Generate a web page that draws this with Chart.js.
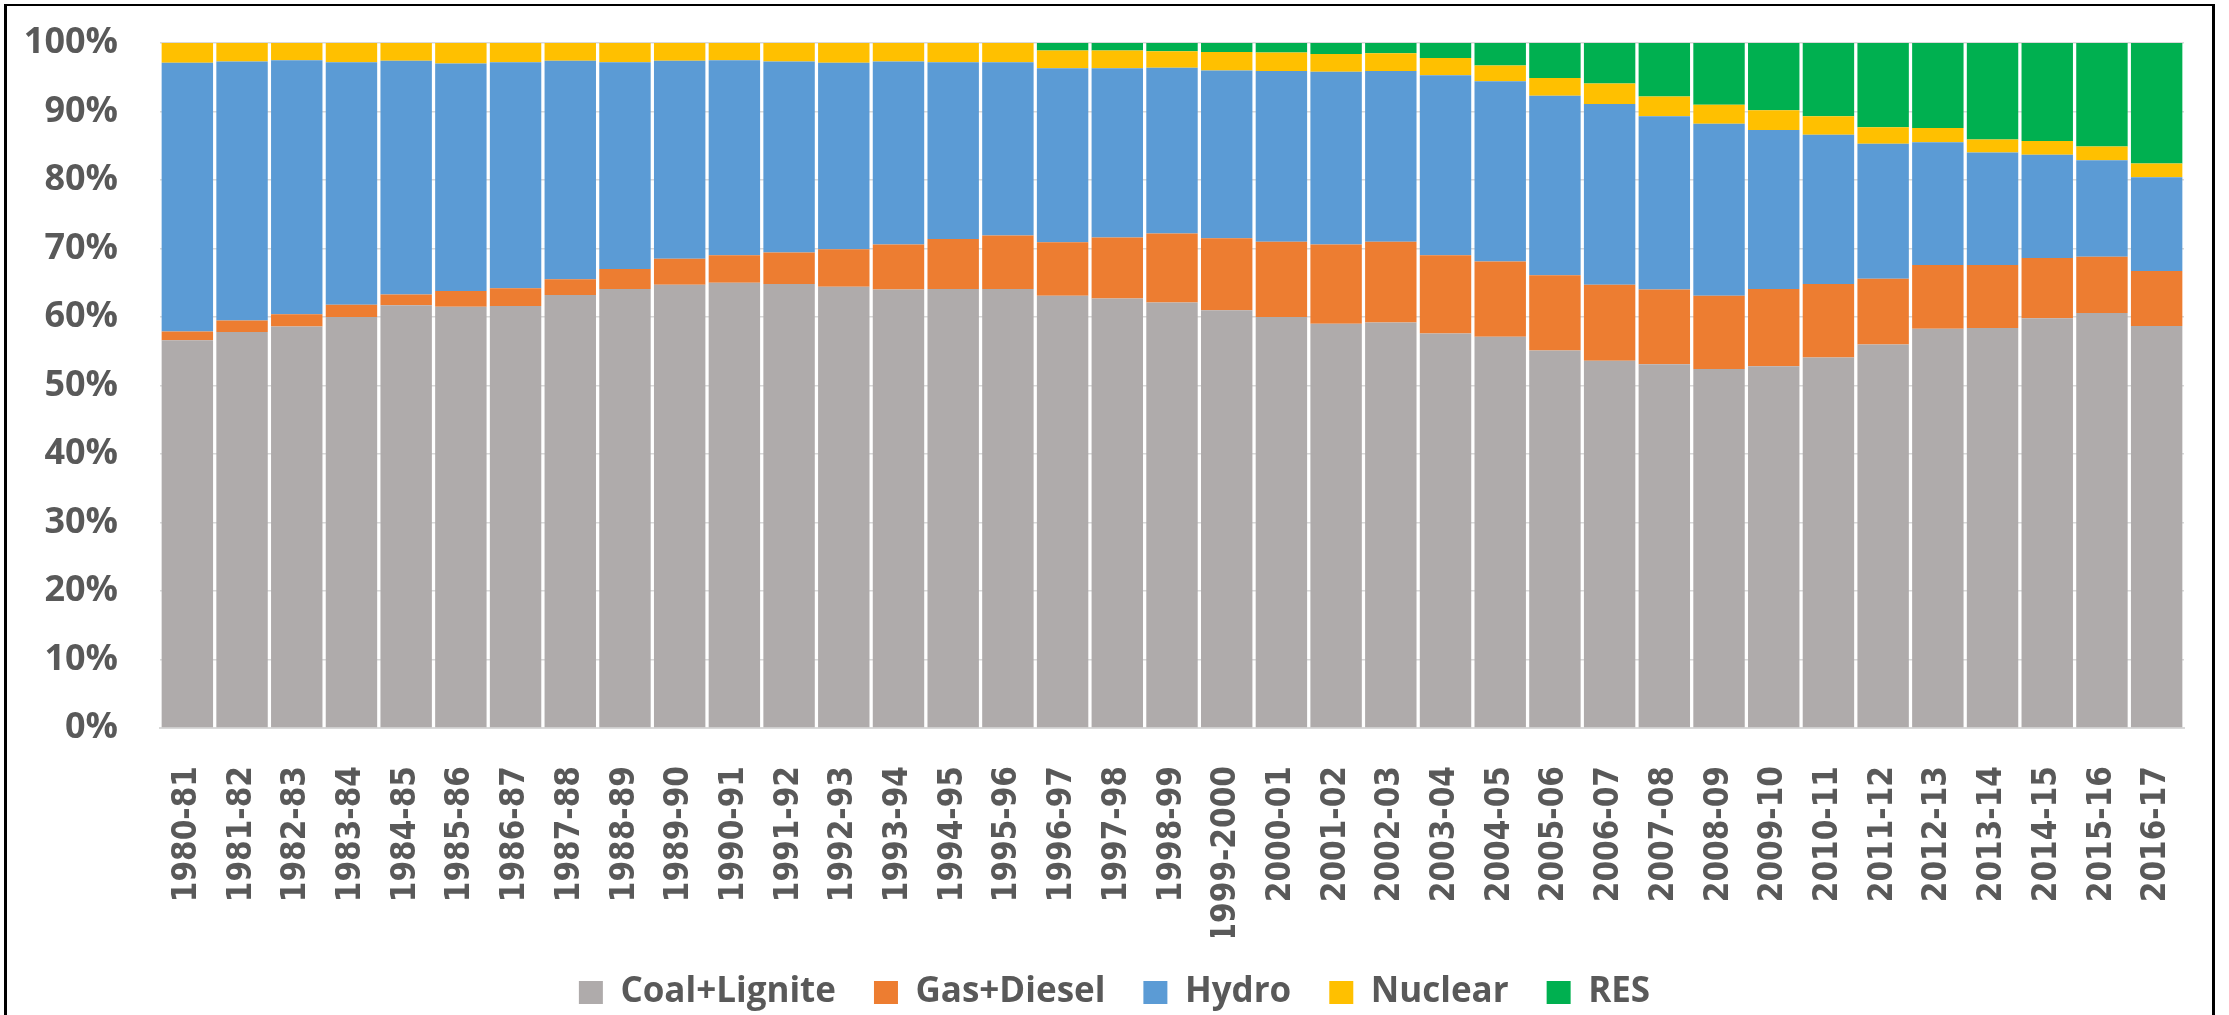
<!DOCTYPE html>
<html>
<head>
<meta charset="utf-8">
<title>Generation mix 1980-81 to 2016-17</title>
<script src="https://cdn.jsdelivr.net/npm/chart.js@4.4.0/dist/chart.umd.min.js"></script>
<style>
    html, body { margin: 0; padding: 0; background: #ffffff; }
    #wrap { position: relative; width: 2229px; height: 1015px; overflow: hidden; }
    #box { position: absolute; left: 0; top: 0; width: 2229px; height: 1020px; }
    #frame {
        position: absolute; left: 4px; top: 4px; width: 2205px; height: 1100px;
        border: 3px solid #000; border-top-width: 2px; border-bottom: none;
        pointer-events: none;
    }
</style>
</head>
<body>
<div id="wrap">
    <div id="box"><canvas id="mixChart"></canvas></div>
    <div id="frame"></div>
</div>
<script>
// Годы
const years = [
    '1980-81', '1981-82', '1982-83', '1983-84', '1984-85', '1985-86', '1986-87', '1987-88',
    '1988-89', '1989-90', '1990-91', '1991-92', '1992-93', '1993-94', '1994-95', '1995-96',
    '1996-97', '1997-98', '1998-99', '1999-2000', '2000-01', '2001-02', '2002-03', '2003-04',
    '2004-05', '2005-06', '2006-07', '2007-08', '2008-09', '2009-10', '2010-11', '2011-12',
    '2012-13', '2013-14', '2014-15', '2015-16', '2016-17'
];

// Доли в %
const coalLignite = [
    56.6, 57.8, 58.6, 60.0, 61.7, 61.5, 61.6, 63.2, 64.1, 64.7, 65.0, 64.8, 64.4, 64.0, 64.1, 64.1,
    63.1, 62.7, 62.1, 61.0, 60.0, 59.0, 59.2, 57.6, 57.1, 55.1, 53.6, 53.1, 52.4, 52.8, 54.1, 56.0,
    58.3, 58.4, 59.8, 60.6, 58.7
];
const gasDiesel = [
    1.3, 1.7, 1.8, 1.8, 1.6, 2.3, 2.6, 2.3, 2.9, 3.8, 4.0, 4.6, 5.5, 6.6, 7.3, 7.8,
    7.8, 8.9, 10.1, 10.5, 11.0, 11.6, 11.8, 11.4, 11.0, 11.0, 11.1, 10.9, 10.7, 11.3, 10.7, 9.6,
    9.3, 9.2, 8.8, 8.2, 8.0
];
const hydro = [
    39.2, 37.8, 37.1, 35.4, 34.1, 33.2, 33.0, 31.9, 30.2, 28.9, 28.5, 27.9, 27.2, 26.7, 25.8, 25.3,
    25.4, 24.7, 24.2, 24.5, 24.9, 25.2, 24.9, 26.3, 26.3, 26.2, 26.4, 25.3, 25.1, 23.2, 21.8, 19.7,
    17.9, 16.4, 15.1, 14.1, 13.7
];
const nuclear = [
    2.9, 2.7, 2.5, 2.8, 2.6, 3.0, 2.8, 2.6, 2.8, 2.6, 2.5, 2.7, 2.9, 2.7, 2.8, 2.8,
    2.6, 2.6, 2.4, 2.7, 2.7, 2.6, 2.6, 2.5, 2.3, 2.6, 3.0, 2.9, 2.8, 2.9, 2.7, 2.4,
    2.1, 1.9, 2.0, 2.0, 2.0
];
const res = [
    0, 0, 0, 0, 0, 0, 0, 0, 0, 0, 0, 0, 0, 0, 0, 0,
    1.1, 1.1, 1.2, 1.3, 1.4, 1.6, 1.5, 2.2, 3.3, 5.1, 5.9, 7.8, 9.0, 9.8, 10.7, 12.3,
    12.4, 14.1, 14.3, 15.1, 17.6
];

const yTicks = [0, 10, 20, 30, 40, 50, 60, 70, 80, 90, 100];

const textColor = '#595959';

function makeSet(label, data, color) {
    return {
        label: label,
        data: data,
        backgroundColor: color,
        borderWidth: 0,
        barPercentage: 0.94,
        categoryPercentage: 1.0
    };
}

const ctx = document.getElementById('mixChart').getContext('2d');
const chart = new Chart(ctx, {
    type: 'bar',
    data: {
        labels: years,
        datasets: [
            makeSet('Coal+Lignite', coalLignite, '#AFABAB'),
            makeSet('Gas+Diesel', gasDiesel, '#ED7D31'),
            makeSet('Hydro', hydro, '#5B9BD5'),
            makeSet('Nuclear', nuclear, '#FFC000'),
            makeSet('RES', res, '#00B050')
        ]
    },
    options: {
        responsive: true,
        maintainAspectRatio: false,
        animation: false,
        layout: { padding: { top: 43, right: 0, left: 0, bottom: 0 } },
        plugins: {
            tooltip: { enabled: false },
            legend: {
                position: 'bottom',
                labels: {
                    boxWidth: 24,
                    boxHeight: 23,
                    padding: 38,
                    color: textColor,
                    font: { family: '"Open Sans", sans-serif', size: 35, weight: 'bold' }
                }
            }
        },
        scales: {
            x: {
                stacked: true,
                grid: { display: false },
                border: { display: true, color: '#D9D9D9', width: 2 },
                ticks: {
                    autoSkip: false,
                    minRotation: 90,
                    maxRotation: 90,
                    padding: 30,
                    color: textColor,
                    font: { family: '"DejaVu Sans Condensed", "DejaVu Sans", sans-serif', size: 33, weight: 'bold' }
                },
                afterFit: scale => { scale.height = 209; }
            },
            y: {
                stacked: true,
                min: 0,
                max: 100,
                afterBuildTicks: scale => { scale.ticks = yTicks.map(v => ({ value: v })); },
                grid: { color: '#D9D9D9', lineWidth: 1.5, drawTicks: false },
                border: { display: false },
                ticks: {
                    padding: 42,
                    color: textColor,
                    font: { family: '"Open Sans", sans-serif', size: 36, weight: 'bold' },
                    callback: v => v + '%'
                },
                // фиксируем ширину оси и убираем лишний отступ сверху
                afterFit: scale => {
                    scale.width = 160;
                    scale.paddingTop = 20;
                    scale.paddingBottom = 20;
                }
            },
            // пустая ось справа: даёт поле справа, а легенда остаётся по центру холста
            yRight: {
                position: 'right',
                display: true,
                grid: { display: false },
                border: { display: false },
                ticks: { display: false },
                afterFit: scale => {
                    scale.width = 45;
                    scale.paddingTop = 0;
                    scale.paddingBottom = 0;
                }
            }
        }
    }
});
</script>
</body>
</html>
